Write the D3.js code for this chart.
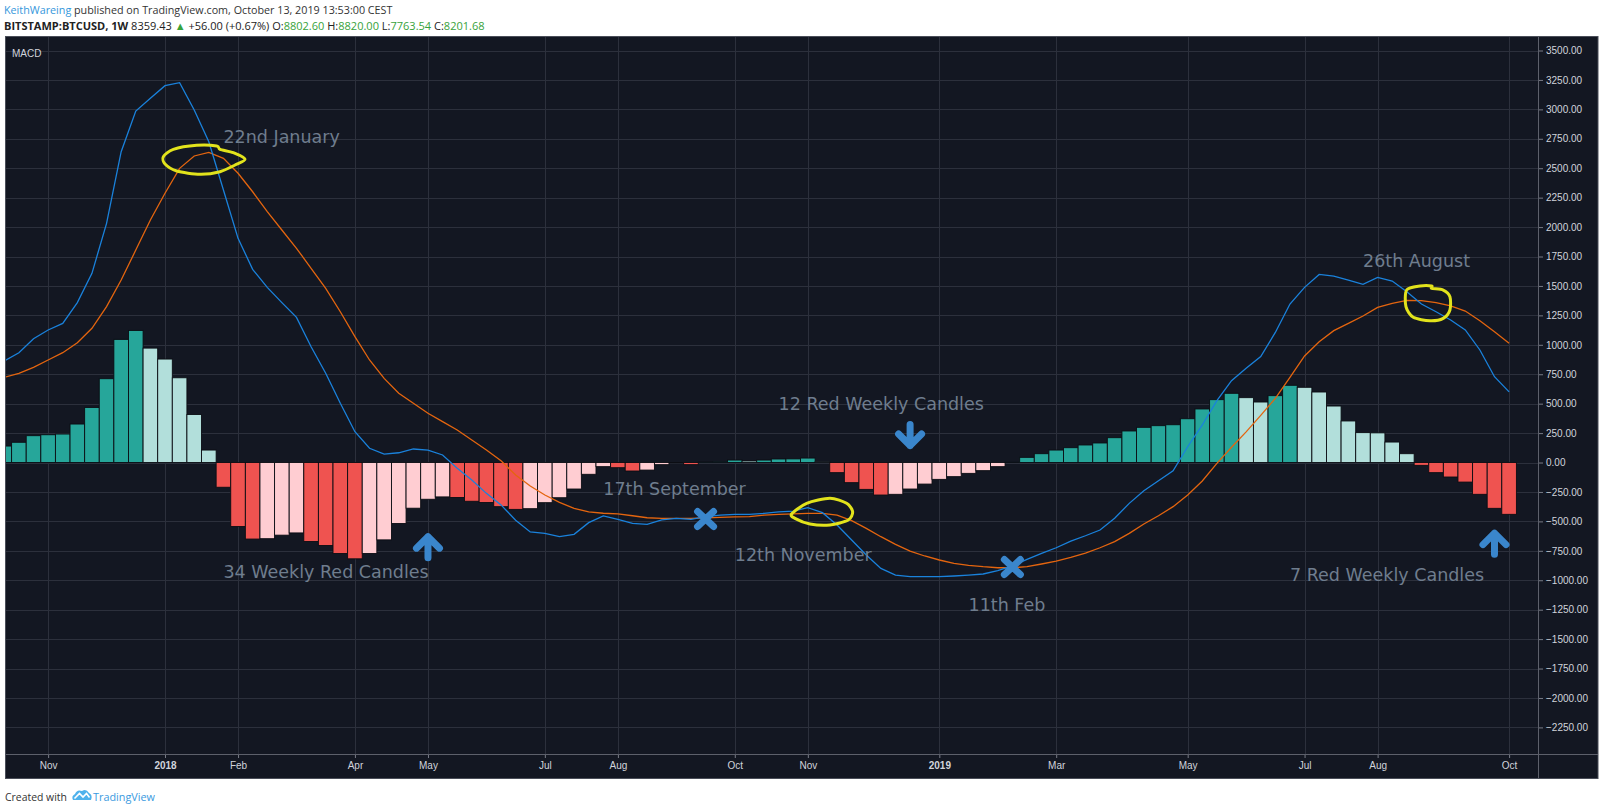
<!DOCTYPE html>
<html>
<head>
<meta charset="utf-8">
<script src="https://cdn.jsdelivr.net/npm/d3@7"></script>
<style>
  html, body { margin: 0; padding: 0; background: #fff; }
  svg { display: block; }
</style>
</head>
<body>
<div id="chart"></div>
<script>
(() => {

  // weekly MACD(12,26,9) of BITSTAMP:BTCUSD, first bar = week of 16 Oct 2017
  const firstWeek = '2017-10-16'
  const histogram = [
    140, 172, 228, 236, 242, 327, 468, 712, 1046, 1122, 972, 879, 720, 408, 106,
    -210, -544, -650, -647, -617, -598, -671, -705, -773, -818, -773, -657, -518, -388, -312,
    -292, -297, -329, -340, -375, -398, -392, -341, -299, -225, -100, -35, -44, -72, -64,
    -18, -3, -18, 4, 7, 21, 13, 21, 30, 31, 38, 7, -86, -171, -228,
    -276, -270, -225, -183, -143, -120, -92, -69, -35, 2, 44, 75, 106, 126, 149,
    166, 211, 268, 299, 313, 321, 372, 455, 534, 588, 551, 514, 568, 656, 639,
    599, 480, 353, 254, 252, 174, 75, -24, -86, -123, -166, -270, -389, -440
  ]
  const macdLine = [
    862, 933, 1052, 1126, 1182, 1358, 1607, 2032, 2640, 2986, 3094, 3201, 3227, 2994, 2725,
    2315, 1904, 1641, 1488, 1358, 1233, 984, 758, 503, 262, 121, 72, 83, 115, 106,
    64, -49, -149, -262, -360, -490, -590, -602, -630, -610, -511, -454, -483, -517, -525,
    -488, -474, -483, -460, -446, -440, -440, -432, -420, -412, -384, -426, -531, -658, -786,
    -899, -956, -970, -970, -970, -964, -956, -947, -919, -878, -823, -772, -724, -667, -622,
    -573, -474, -347, -240, -155, -70, 134, 319, 525, 695, 800, 900, 1105, 1346, 1488,
    1598, 1584, 1550, 1514, 1573, 1542, 1451, 1346, 1281, 1211, 1126, 956, 729, 600
  ]
  const signalLine = [
    724, 758, 809, 871, 933, 1018, 1140, 1324, 1550, 1805, 2060, 2287, 2499, 2604, 2635,
    2584, 2457, 2300, 2131, 1975, 1820, 1650, 1480, 1281, 1069, 871, 715, 588, 503, 418,
    347, 276, 191, 106, 15, -106, -200, -276, -338, -389, -420, -431, -437, -452, -469,
    -474, -474, -474, -470, -466, -462, -459, -446, -440, -437, -432, -432, -446, -494, -559,
    -630, -695, -752, -794, -828, -856, -873, -885, -894, -894, -885, -862, -837, -806, -769,
    -724, -672, -602, -522, -452, -375, -276, -157, -7, 130, 260, 400, 545, 724, 905,
    1026, 1120, 1182, 1245, 1318, 1352, 1378, 1375, 1358, 1330, 1287, 1205, 1111, 1013
  ]

  const tickDates = ['2017-11-06', '2018-01-01', '2018-02-05', '2018-04-02', '2018-05-07', '2018-07-02',
    '2018-08-06', '2018-10-01', '2018-11-05', '2019-01-07', '2019-03-04', '2019-05-06', '2019-07-01',
    '2019-08-05', '2019-10-07']
  const tickLabels = ['Nov', '2018', 'Feb', 'Apr', 'May', 'Jul', 'Aug', 'Oct', 'Nov', '2019', 'Mar',
    'May', 'Jul', 'Aug', 'Oct']
  const yTicks = [3500, 3250, 3000, 2750, 2500, 2250, 2000, 1750, 1500, 1250, 1000, 750, 500, 250, 0,
    -250, -500, -750, -1000, -1250, -1500, -1750, -2000, -2250]

  // drawings placed on the chart (anchor date / value)
  const noteTexts = ['22nd January', '34 Weekly Red Candles', '17th September', '12th November',
    '12 Red Weekly Candles', '11th Feb', '26th August', '7 Red Weekly Candles']
  const noteDates = ['2018-01-29', '2018-01-29', '2018-07-30', '2018-10-01', '2018-10-22',
    '2019-01-21', '2019-07-29', '2019-06-24']
  const noteValues = [2714, -981, -276, -837, 446, -1261, 1661, -1005]

  const arrowDates = ['2018-05-07', '2018-12-24', '2019-09-30']
  const arrowValues = [-600, 115, -570]
  const arrowDirs = ['up', 'down', 'up']

  const crossDates = ['2018-09-17', '2019-02-11']
  const crossValues = [-480, -888]

  const circleDates = ['2018-01-22', '2018-11-12', '2019-08-26']
  const circleValues = [2635, -412, 1355]
  const circleShapes = [
    [[-45.5, 4.4], [-35.5, -3], [-12.1, -7], [7.9, -6.3], [11.2, -3], [24.5, 0.4], [36.2, 7],
      [26.2, 12.7], [11.2, 19.4], [-8.8, 22], [-32.1, 18.7], [-43.8, 11.7]],
    [[-30.8, 3], [-15.8, -7.7], [7.5, -12.7], [24.2, -7.7], [30.2, 0.7], [25.8, 9], [7.5, 14],
      [-12.5, 13], [-27.5, 7.3]],
    [[-14.8, -13], [-1.5, -17], [10.2, -17], [10.2, -14.7], [21.8, -13], [28.5, -6.3], [28.5, 7],
      [21.8, 15.3], [8.5, 17.7], [-8.2, 14.3], [-15.5, 3.7]]
  ]

  const width = 1600
  const height = 811
  const pane = {left: 6, top: 37, right: 1538, bottom: 754, outerRight: 1598, outerBottom: 778}
  const bg = '#131722'
  const gridColor = '#2c303c'
  const axisText = '#d1d4dc'
  const noteColor = '#6f7d8e'
  const drawBlue = '#3a86cc'
  const font = '"Liberation Sans", Arial, sans-serif'

  const parse = d3.utcParse('%Y-%m-%d')
  const start = parse(firstWeek)
  const weeks = d3.utcMonday.range(start, d3.utcMonday.offset(start, histogram.length))
  const bars = weeks.map((date, i) => ({
    date,
    hist: histogram[i],
    prev: i > 0 ? histogram[i - 1] : -Infinity,
    macd: macdLine[i],
    signal: signalLine[i]
  }))

  const x = d3.scaleUtc()
    .domain([parse('2018-01-01'), parse('2019-10-07')])
    .range([165, 1509.1])
  const y = d3.scaleLinear()
    .domain([-2250, 3500])
    .range([727.4, 50.5])
  const barW = x(parse('2018-01-08')) - x(parse('2018-01-01'))

  const svg = d3.select('#chart')
    .append('svg')
    .attr('width', width)
    .attr('height', height)

  const fitWidth = (sel, w) => {
    const len = sel.node().getComputedTextLength()
    const fs = parseFloat(sel.attr('font-size'))
    sel.attr('font-size', fs * w / len)
  }

  // header
  const head1 = svg.append('text')
    .attr('x', 4).attr('y', 14)
    .attr('font-family', '"Open Sans", sans-serif')
    .attr('font-size', 11)
  head1.append('tspan').attr('fill', '#3597dc').text('KeithWareing')
  head1.append('tspan').attr('fill', '#333').text(' published on TradingView.com, October 13, 2019 13:53:00 CEST')

  const green = '#37a23a'
  const head2 = svg.append('text')
    .attr('x', 4).attr('y', 30)
    .attr('font-family', '"Open Sans", sans-serif')
    .attr('font-size', 11)
    .attr('fill', '#222')
  head2.append('tspan').attr('font-weight', 'bold').text('BITSTAMP:BTCUSD, 1W')
  head2.append('tspan').text('  8359.43 ')
  head2.append('tspan').attr('fill', green).text('▲')
  head2.append('tspan').text(' +56.00 (+0.67%) O:')
  head2.append('tspan').attr('fill', green).text('8802.60')
  head2.append('tspan').text(' H:')
  head2.append('tspan').attr('fill', green).text('8820.00')
  head2.append('tspan').text(' L:')
  head2.append('tspan').attr('fill', green).text('7763.54')
  head2.append('tspan').text(' C:')
  head2.append('tspan').attr('fill', green).text('8201.68')

  fitWidth(head1, 389)
  fitWidth(head2, 481)

  // chart background
  svg.append('rect')
    .attr('x', pane.left - 0.5).attr('y', pane.top - 0.5)
    .attr('width', pane.outerRight - pane.left + 0.5)
    .attr('height', pane.outerBottom - pane.top + 1)
    .attr('fill', bg)
    .attr('stroke', '#4a4e59')

  svg.append('defs').append('clipPath')
    .attr('id', 'plot-clip')
    .append('rect')
    .attr('x', pane.left).attr('y', pane.top)
    .attr('width', pane.right - pane.left)
    .attr('height', pane.bottom - pane.top)

  // grid
  const grid = svg.append('g').attr('class', 'grid').attr('clip-path', 'url(#plot-clip)')
  grid.selectAll('.vgrid')
    .data(tickDates)
    .enter()
    .append('line')
    .attr('x1', d => Math.round(x(parse(d))) + 0.5)
    .attr('x2', d => Math.round(x(parse(d))) + 0.5)
    .attr('y1', pane.top).attr('y2', pane.bottom)
    .attr('stroke', gridColor)
  grid.selectAll('.hgrid')
    .data(yTicks)
    .enter()
    .append('line')
    .attr('x1', pane.left).attr('x2', pane.right)
    .attr('y1', d => Math.round(y(d)) + 0.5)
    .attr('y2', d => Math.round(y(d)) + 0.5)
    .attr('stroke', gridColor)

  svg.append('text')
    .attr('x', 12).attr('y', 57)
    .attr('font-family', font)
    .attr('font-size', 10)
    .attr('fill', axisText)
    .text('MACD')

  const plot = svg.append('g').attr('clip-path', 'url(#plot-clip)')

  // histogram columns
  const colorOf = d => {
    if (d.hist >= 0) return d.hist > d.prev ? '#26a69a' : '#b2dfdb'
    return d.hist < d.prev ? '#ef5350' : '#ffcdd2'
  }
  plot.append('g')
    .selectAll('rect')
    .data(bars)
    .enter()
    .append('rect')
    .attr('x', d => x(d.date) - barW / 2)
    .attr('width', barW)
    .attr('y', d => Math.min(y(d.hist), y(0)))
    .attr('height', d => Math.abs(y(d.hist) - y(0)))
    .attr('fill', colorOf)
    .attr('stroke', '#0b0d13')
    .attr('stroke-width', 0.9)

  // signal + macd lines
  const lineOf = key => d3.line()
    .x(d => x(d.date))
    .y(d => y(d[key]))
  plot.append('path')
    .datum(bars)
    .attr('d', lineOf('signal'))
    .attr('fill', 'none')
    .attr('stroke', '#e4650f')
    .attr('stroke-width', 1.3)
  plot.append('path')
    .datum(bars)
    .attr('d', lineOf('macd'))
    .attr('fill', 'none')
    .attr('stroke', '#1a82dc')
    .attr('stroke-width', 1.3)

  // price scale
  const yAxis = svg.append('g')
    .attr('transform', `translate(${pane.right},0)`)
    .call(d3.axisRight(y)
      .tickValues(yTicks)
      .tickSize(5)
      .tickPadding(3)
      .tickFormat(v => (v < 0 ? '\u2212' : '') + Math.abs(v).toFixed(2)))
  yAxis.select('.domain').remove()
  yAxis.selectAll('line').attr('stroke', '#787b86')
  yAxis.selectAll('text')
    .attr('fill', axisText)
    .attr('font-family', font)
    .attr('font-size', 10)

  // time scale
  const xAxis = svg.append('g')
    .attr('transform', `translate(0,${pane.bottom})`)
    .call(d3.axisBottom(x)
      .tickValues(tickDates.map(parse))
      .tickSize(4)
      .tickPadding(4)
      .tickFormat((d, i) => tickLabels[i]))
  xAxis.select('.domain').remove()
  xAxis.selectAll('line').attr('stroke', '#787b86')
  xAxis.selectAll('text')
    .attr('fill', axisText)
    .attr('font-family', font)
    .attr('font-size', 10)
    .attr('font-weight', (d, i) => /^\d{4}$/.test(tickLabels[i]) ? 'bold' : null)

  svg.append('line')
    .attr('x1', pane.left).attr('x2', pane.outerRight)
    .attr('y1', pane.bottom + 0.5).attr('y2', pane.bottom + 0.5)
    .attr('stroke', '#5d606b')
  svg.append('line')
    .attr('x1', pane.right + 0.5).attr('x2', pane.right + 0.5)
    .attr('y1', pane.top).attr('y2', pane.outerBottom)
    .attr('stroke', '#5d606b')

  // drawings
  const drawings = svg.append('g').attr('clip-path', 'url(#plot-clip)')

  drawings.selectAll('.note')
    .data(noteTexts)
    .enter()
    .append('text')
    .attr('class', 'note')
    .attr('x', (d, i) => x(parse(noteDates[i])))
    .attr('y', (d, i) => y(noteValues[i]))
    .attr('font-family', '"DejaVu Sans", Verdana, sans-serif')
    .attr('font-size', 17.5)
    .attr('fill', noteColor)
    .text(d => d)

  const loop = d3.line().curve(d3.curveCardinalClosed.tension(0.2))
  drawings.selectAll('.circle')
    .data(circleShapes)
    .enter()
    .append('path')
    .attr('class', 'circle')
    .attr('transform', (d, i) => `translate(${x(parse(circleDates[i]))},${y(circleValues[i])})`)
    .attr('d', d => loop(d))
    .attr('fill', 'none')
    .attr('stroke', '#e2e31c')
    .attr('stroke-width', 3)
    .attr('stroke-linejoin', 'round')

  const arrowPath = dir => {
    const s = dir === 'up' ? 1 : -1
    return `M-11.5,${11.5 * s} L0,0 L11.5,${11.5 * s} M0,0 L0,${21 * s}`
  }
  drawings.selectAll('.arrow')
    .data(arrowDirs)
    .enter()
    .append('path')
    .attr('class', 'arrow')
    .attr('transform', (d, i) => {
      const s = d === 'up' ? 1 : -1
      return `translate(${x(parse(arrowDates[i]))},${y(arrowValues[i]) + 3.5 * s})`
    })
    .attr('d', arrowPath)
    .attr('fill', 'none')
    .attr('stroke', drawBlue)
    .attr('stroke-width', 7)
    .attr('stroke-linecap', 'round')
    .attr('stroke-linejoin', 'round')

  drawings.selectAll('.cross')
    .data(crossDates)
    .enter()
    .append('path')
    .attr('class', 'cross')
    .attr('transform', (d, i) => `translate(${x(parse(d))},${y(crossValues[i])})`)
    .attr('d', 'M-8,-7.5 L8,7.5 M8,-7.5 L-8,7.5')
    .attr('fill', 'none')
    .attr('stroke', drawBlue)
    .attr('stroke-width', 7)
    .attr('stroke-linecap', 'round')

  // footer
  const foot = svg.append('g').attr('transform', 'translate(5,801)')
  const created = foot.append('text')
    .attr('font-family', '"Open Sans", sans-serif')
    .attr('font-size', 11.5)
    .attr('fill', '#333')
    .text('Created with')
  fitWidth(created, 62)
  const logo = foot.append('g').attr('transform', 'translate(67,0)')
  logo.append('path')
    .attr('d', 'M1,-1 Q-1,-5 3,-7 Q5,-12 10,-10 Q14,-13 17,-8 Q21,-6 19,-1 Z')
    .attr('fill', '#4fb2ec')
  logo.append('path')
    .attr('d', 'M2.5,-2.5 L7.5,-7.5 L11,-4 L14.5,-7.5 L17.5,-3.5')
    .attr('fill', 'none')
    .attr('stroke', '#fff')
    .attr('stroke-width', 1.6)
  const brand = foot.append('text')
    .attr('x', 88)
    .attr('font-family', '"Open Sans", sans-serif')
    .attr('font-size', 11.5)
    .attr('fill', '#3a9ae0')
    .text('TradingView')
  fitWidth(brand, 62)

})()
</script>
</body>
</html>
